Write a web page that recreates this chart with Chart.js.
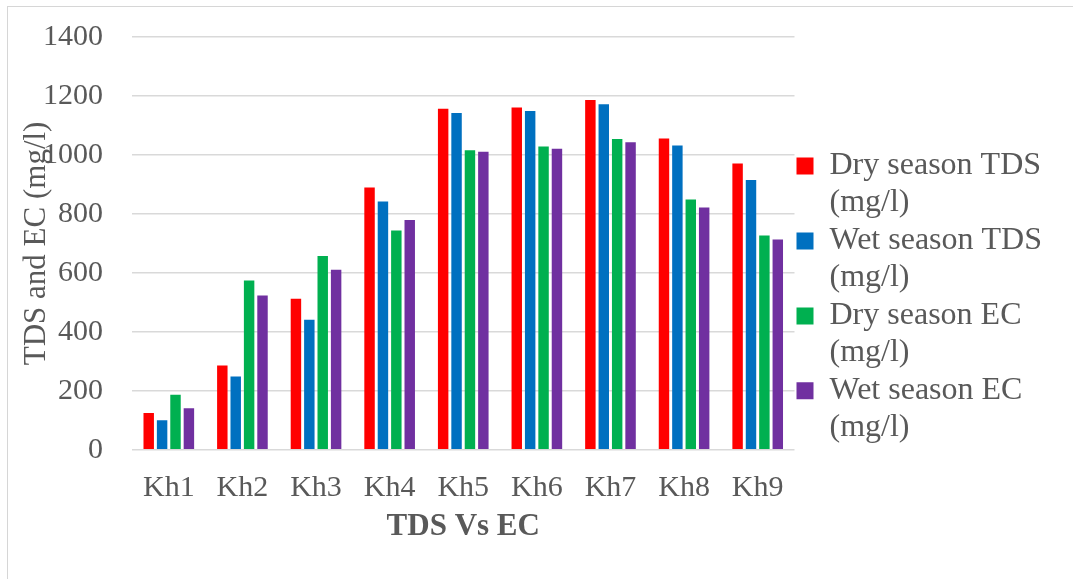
<!DOCTYPE html>
<html>
<head>
<meta charset="utf-8">
<script src="https://cdn.jsdelivr.net/npm/chart.js@4.4.1/dist/chart.umd.min.js"></script>
<style>
  html, body { margin: 0; padding: 0; background: #ffffff; }
  #wrap { position: relative; width: 1073px; height: 579px; overflow: hidden; }
  #frame { position: absolute; left: 7px; top: 6px; width: 1200px; height: 700px;
           border-left: 1px solid #d6d6d6; border-top: 1px solid #d6d6d6; }
  canvas { position: absolute; left: 0; top: 0; }
</style>
</head>
<body>
<div id="wrap">
  <div id="frame"></div>
  <canvas id="chart" width="1073" height="579"></canvas>
</div>
<script>
// Sampling sites
const categories = ['Kh1', 'Kh2', 'Kh3', 'Kh4', 'Kh5', 'Kh6', 'Kh7', 'Kh8', 'Kh9'];

// Measured values (mg/l)
const dryTDS = [125, 286, 512, 890, 1157, 1161, 1186, 1056, 971];
const wetTDS = [100, 249, 441, 842, 1142, 1149, 1172, 1032, 915];
const dryEC  = [187, 574, 657, 744, 1016, 1029, 1054, 849, 727];
const wetEC  = [141, 523, 611, 779, 1011, 1021, 1043, 822, 713];

// Series names, split over two lines in the legend
const seriesNames = ['Dry season TDS (mg/l)', 'Wet season TDS (mg/l)', 'Dry season EC (mg/l)', 'Wet season EC (mg/l)'];
const legendLines = [
  ['Dry season TDS', '(mg/l)'],
  ['Wet season TDS', '(mg/l)'],
  ['Dry season EC', '(mg/l)'],
  ['Wet season EC', '(mg/l)']
];
const seriesColors = ['#FF0000', '#0070C0', '#00B050', '#7030A0'];

// Axis range and ticks
const yMin = 0, yMax = 1400, yStep = 200;
const yTitle = 'TDS and EC (mg/l)';
const xTitle = 'TDS Vs EC';

const textColor = '#595959';
const serif = '"Liberation Serif", "Times New Roman", serif';

const seriesValues = [dryTDS, wetTDS, dryEC, wetEC];

new Chart(document.getElementById('chart'), {
  type: 'bar',
  data: {
    labels: categories,
    datasets: seriesValues.map((vals, i) => ({
      label: seriesNames[i],
      data: vals,
      backgroundColor: seriesColors[i],
      borderWidth: 0,
      categoryPercentage: 0.728,
      barPercentage: 0.78
    }))
  },
  options: {
    responsive: false,
    animation: false,
    devicePixelRatio: 1,
    layout: { padding: { left: 8, right: 21, top: 10, bottom: 16 } },
    plugins: {
      tooltip: { enabled: false },
      legend: {
        position: 'right',
        align: 'end',
        fullSize: false,
        labels: {
          boxWidth: 17,
          boxHeight: 17,
          padding: 2,
          color: textColor,
          font: { family: serif, size: 32, lineHeight: 1.14 },
          generateLabels: (chart) => {
            const items = Chart.defaults.plugins.legend.labels.generateLabels(chart);
            return items.map((item, i) => Object.assign(item, {
              text: legendLines[i],
              lineWidth: 0,
              strokeStyle: 'rgba(0,0,0,0)'
            }));
          }
        }
      }
    },
    scales: {
      x: {
        grid: { display: false, drawTicks: false },
        border: { display: false },
        ticks: {
          color: textColor,
          padding: 20,
          maxRotation: 0,
          font: { family: serif, size: 30 }
        },
        title: {
          display: true,
          text: xTitle,
          color: textColor,
          padding: { top: -17, bottom: 17 },
          font: { family: serif, size: 31, weight: 'bold' }
        }
      },
      y: {
        min: yMin,
        max: yMax,
        border: { display: false },
        grid: { color: '#d9d9d9', lineWidth: 1.5, drawTicks: false },
        ticks: {
          stepSize: yStep,
          color: textColor,
          padding: 29,
          font: { family: serif, size: 30 },
          callback: (v) => String(v)
        },
        title: {
          display: true,
          text: yTitle,
          color: textColor,
          padding: { top: 10, bottom: 0 },
          font: { family: serif, size: 31 }
        },
        afterFit: (scale) => {
          scale.width = 124;
          scale.paddingTop = 37;
        }
      }
    }
  }
});
</script>
</body>
</html>
